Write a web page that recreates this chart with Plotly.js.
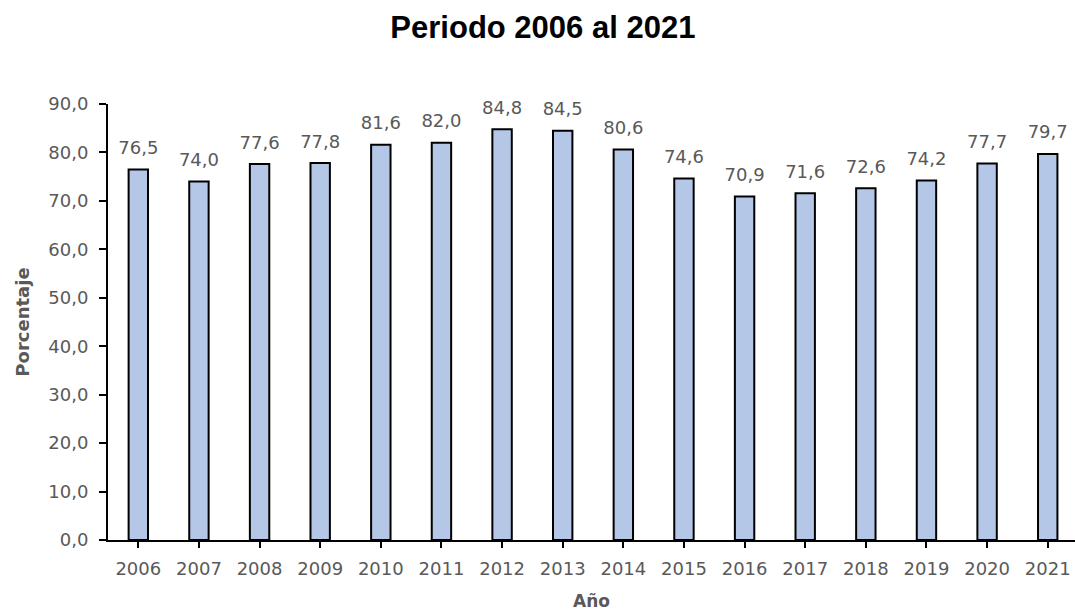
<!DOCTYPE html>
<html>
<head>
<meta charset="utf-8">
<script src="https://cdn.plot.ly/plotly-3.0.1.min.js"></script>
<style>
html, body { margin:0; padding:0; overflow:hidden; background:#fff; }
#chart { width:1075px; height:611px; }
</style>
</head>
<body>
<div id="chart"></div>
<script>
const years = ['2006','2007','2008','2009','2010','2011','2012','2013','2014','2015','2016','2017','2018','2019','2020','2021'];
const porcentaje = [76.5, 74.0, 77.6, 77.8, 81.6, 82.0, 84.8, 84.5, 80.6, 74.6, 70.9, 71.6, 72.6, 74.2, 77.7, 79.7];
const titleText = 'Periodo 2006 al 2021';
const xTitle = 'Año';
const yTitle = 'Porcentaje';

const gray = '#595959';
const fam = 'DejaVu Sans, Verdana, sans-serif';

const bars = {
  type: 'bar',
  x: years,
  y: porcentaje,
  marker: {color: '#B4C7E7', line: {color: '#000000', width: 2}},
  hoverinfo: 'skip'
};

const labels = {
  type: 'scatter',
  mode: 'markers+text',
  x: years,
  y: porcentaje,
  texttemplate: '%{y:.1f}',
  textposition: 'top center',
  textfont: {family: fam, size: 18, color: gray},
  marker: {size: 16, color: 'rgba(0,0,0,0)'},
  cliponaxis: false,
  hoverinfo: 'skip'
};

const layout = {
  width: 1075, height: 611,
  margin: {l: 108, r: 0, t: 104, b: 71},
  paper_bgcolor: '#fff', plot_bgcolor: '#fff',
  separators: ',.',
  bargap: 0.68,
  showlegend: false,
  title: {
    text: '<b>' + titleText + '</b>',
    font: {family: 'Liberation Sans, Arial, sans-serif', size: 31, color: '#000'},
    x: 0.505, xref: 'container', xanchor: 'center',
    y: 0.955, yref: 'container', yanchor: 'middle'
  },
  xaxis: {
    type: 'category',
    range: [-0.5, 15.45],
    showline: true, linecolor: '#000', linewidth: 2,
    ticks: 'outside', ticklen: 6, tickwidth: 2, tickcolor: '#000',
    tickfont: {family: fam, size: 18, color: gray},
    ticklabelstandoff: 5,
    showgrid: false, zeroline: false,
    title: {text: '<b>' + xTitle + '</b>', font: {family: fam, size: 17, color: gray}, standoff: 19}
  },
  yaxis: {
    range: [0, 90],
    dtick: 10, tick0: 0,
    tickformat: '.1f',
    showline: true, linecolor: '#000', linewidth: 2,
    ticks: 'outside', ticklen: 7, tickwidth: 2, tickcolor: '#000',
    tickfont: {family: fam, size: 18, color: gray},
    ticklabelstandoff: 7,
    showgrid: false, zeroline: false,
    title: {text: '<b>' + yTitle + '</b>', font: {family: fam, size: 18, color: gray}, standoff: 14}
  }
};

Plotly.newPlot('chart', [bars, labels], layout, {displayModeBar: false, staticPlot: true});
</script>
</body>
</html>
